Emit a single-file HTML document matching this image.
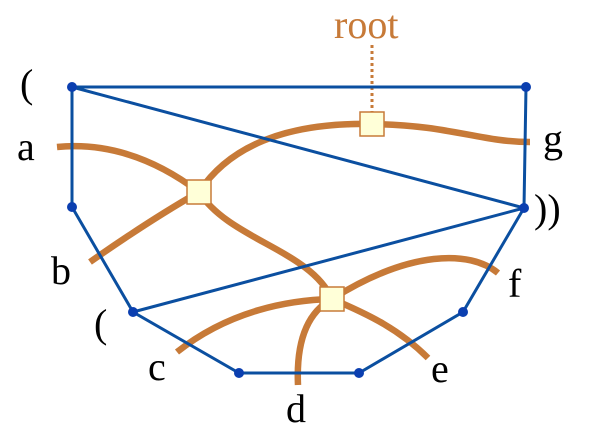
<!DOCTYPE html>
<html><head><style>body{margin:0;background:#fff}svg{display:block}</style></head><body>
<svg width="600" height="439" viewBox="0 0 600 439" xmlns="http://www.w3.org/2000/svg">
<g fill="none" stroke="#c77a38" stroke-width="6.5">
<path d="M57,147 Q130,140 199,192"/>
<path d="M90,262 Q150,220 199,192"/>
<path d="M199,192 C240,130 320,123 372,124 C450,125 480,142 530,142"/>
<path d="M199,192 C230,240 310,250 332,299"/>
<path d="M177,352 C230,310 290,300 332,299"/>
<path d="M298,385 C296,340 308,312 332,299"/>
<path d="M428,358 C400,330 370,315 332,299"/>
<path d="M498,273 C470,250 410,250 332,299"/>
</g>
<line x1="372" y1="45" x2="372" y2="112" stroke="#c77a38" stroke-width="3" stroke-dasharray="3,3"/>
<g fill="none" stroke="#0b4fa0" stroke-width="3">
<polygon points="72,87 526,87 524,208 463,312 359,373 239,373 133,312 72,207"/>
<line x1="72" y1="87" x2="524" y2="208"/>
<line x1="524" y1="208" x2="133" y2="312"/>
</g>
<g fill="#0b3fb0">
<circle cx="72" cy="87" r="5"/><circle cx="526" cy="87" r="5"/><circle cx="524" cy="208" r="5"/>
<circle cx="463" cy="312" r="5"/><circle cx="359" cy="373" r="5"/><circle cx="239" cy="373" r="5"/>
<circle cx="133" cy="312" r="5"/><circle cx="72" cy="207" r="5"/>
</g>
<g fill="#ffffd8" stroke="#c77a38" stroke-width="1.5">
<rect x="187" y="180" width="24" height="24"/>
<rect x="360" y="112" width="24" height="24"/>
<rect x="320" y="287" width="24" height="24"/>
</g>
<g font-family="Liberation Serif, serif" font-size="40" fill="#000">
<text x="20" y="97">(</text>
<text x="17" y="160">a</text>
<text x="51" y="284">b</text>
<text x="94" y="337">(</text>
<text x="148" y="380">c</text>
<text x="286" y="422">d</text>
<text x="431" y="382">e</text>
<text x="508" y="297">f</text>
<text x="543" y="152">g</text>
<text x="534" y="222">))</text>
<text x="334" y="38" fill="#c77a38">root</text>
</g>
</svg>
</body></html>
